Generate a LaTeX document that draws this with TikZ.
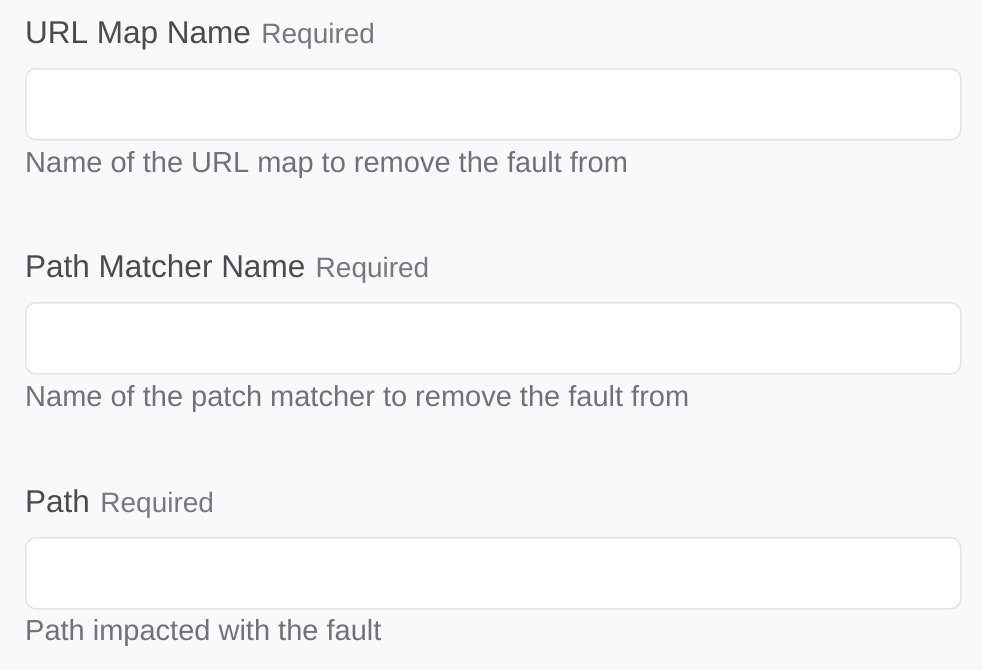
\documentclass[tikz,border=0pt]{standalone}
\usepackage{fontspec}
\setmainfont{Liberation Sans}
\usepackage{tikz}
\usetikzlibrary{positioning}

\definecolor{pagebg}{HTML}{F8F9FB}
\definecolor{fieldline}{HTML}{E3E4E9}
\definecolor{labeltext}{HTML}{4A4A4F}
\definecolor{reqtext}{HTML}{76787D}
\definecolor{helptext}{HTML}{6F7378}

\tikzset{
  fieldlabel/.style={anchor=base west, inner sep=0pt, text=labeltext, font=\fontsize{31.5}{36}\selectfont},
  reqtag/.style={inner sep=0pt, text=reqtext, font=\fontsize{28}{32}\selectfont},
  inputbox/.style={draw=fieldline, fill=white, line width=1.5pt, rounded corners=10pt, anchor=north west,
                   minimum width=935pt, minimum height=71pt, inner sep=0pt},
  helpnote/.style={anchor=base west, inner sep=0pt, text=helptext, font=\fontsize{29}{34}\selectfont}
}

\begin{document}
\begin{tikzpicture}[x=1pt,y=-1pt]
                    \fill[pagebg] (0,0) rectangle (982,670);
                    \useasboundingbox (0,0) rectangle (982,670);
                    % url map
                    \node (urllabel) [fieldlabel] at (25,43) {URL Map Name};
                    \node (urlreq) [reqtag, right=10pt of urllabel.base east, anchor=base west] {Required};
                    \node (urlbox) [inputbox] at (25,68) {};
                    \node (urlhelp) [helpnote] at (25,172) {Name of the URL map to remove the fault from};
                    % path matcher
                    \node (matchlabel) [fieldlabel] at (25,277) {Path Matcher Name};
                    \node (matchreq) [reqtag, right=10pt of matchlabel.base east, anchor=base west] {Required};
                    \node (matchbox) [inputbox] at (25,302) {};
                    \node (matchhelp) [helpnote] at (25,406) {Name of the patch matcher to remove the fault from};
                    % path
                    \node (pathlabel) [fieldlabel] at (25,512) {Path};
                    \node (pathreq) [reqtag, right=10pt of pathlabel.base east, anchor=base west] {Required};
                    \node (pathbox) [inputbox] at (25,537) {};
                    \node (pathhelp) [helpnote] at (25,640) {Path impacted with the fault};
                \end{tikzpicture}
\end{document}
